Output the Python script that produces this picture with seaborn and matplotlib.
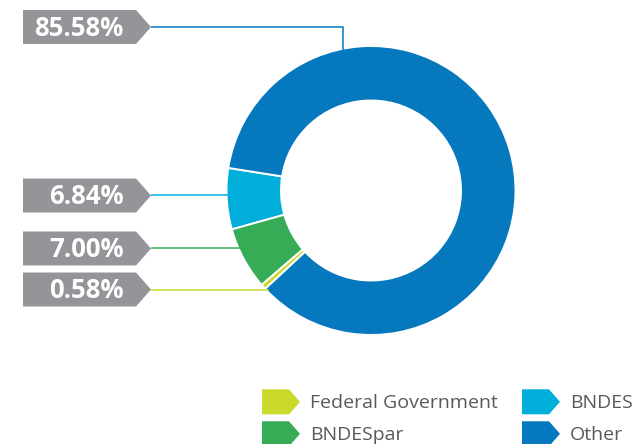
import matplotlib
matplotlib.use("Agg")
import matplotlib.pyplot as plt
import seaborn as sns
import numpy as np
from matplotlib.patches import Polygon

# Shareholder composition
categories = ["BNDES", "BNDESpar", "Federal Government", "Other"]
shares = [6.84, 7.00, 0.58, 85.58]
palette = ["#00AED9", "#37AC57", "#C9DA2A", "#0578BE"]

# Legend layout: two rows, two columns
legend_order = ["Federal Government", "BNDES", "BNDESpar", "Other"]

sns.set_theme(style="white")
plt.rcParams["font.family"] = ["Open Sans", "DejaVu Sans"]

W, H = 635, 444
fig = plt.figure(figsize=(W / 100, H / 100), dpi=100)
ax = fig.add_axes([0, 0, 1, 1])

cx, cy = 371, H - 190.5
r_out, ring = 144.5, 54.5

ax.pie(shares, colors=palette, startangle=171, counterclock=True,
       radius=r_out, center=(cx, cy),
       wedgeprops=dict(width=ring, edgecolor="white", linewidth=1.4))

ax.set_xlim(0, W)
ax.set_ylim(0, H)
ax.set_aspect("equal")
ax.axis("off")

# Value tags on the left, with leader lines into the ring
tag_rows = {"Other": 27, "BNDES": 195.5, "BNDESpar": 248.5, "Federal Government": 289.5}
tag_x0, tag_body, tag_tip, tag_h = 23, 136, 151, 34
box_grey = "#939598"

for name, val, col in zip(categories, shares, palette):
    yc = H - tag_rows[name]
    poly = Polygon([(tag_x0, yc + tag_h / 2), (tag_body, yc + tag_h / 2),
                    (tag_tip, yc), (tag_body, yc - tag_h / 2),
                    (tag_x0, yc - tag_h / 2)],
                   closed=True, facecolor=box_grey, edgecolor="none", zorder=3)
    ax.add_patch(poly)
    ax.text(123.5, yc - 8.8, f"{val:.2f}%", ha="right", va="baseline",
            color="white", fontsize=18.5, fontweight="bold", zorder=4)
    if name == "Other":
        xv = 343
        y_edge = cy + np.sqrt(r_out ** 2 - (xv - cx) ** 2)
        ax.plot([tag_tip, xv, xv], [yc, yc, y_edge - 3], color=col,
                lw=1.1, zorder=1, solid_capstyle="butt")
    else:
        x_edge = cx - np.sqrt(r_out ** 2 - (yc - cy) ** 2)
        ax.plot([tag_tip, x_edge + 3], [yc, yc], color=col, lw=1.1,
                zorder=1, solid_capstyle="butt")

# Legend with arrow-shaped swatches
color_of = dict(zip(categories, palette))
col_x = [262, 522]
row_y = [401.8, 433.8]
for i, name in enumerate(legend_order):
    x0 = col_x[i % 2]
    yc = H - row_y[i // 2]
    sw = Polygon([(x0, yc + 12.5), (x0 + 27, yc + 12.5), (x0 + 38, yc),
                  (x0 + 27, yc - 12.5), (x0, yc - 12.5)],
                 closed=True, facecolor=color_of[name], edgecolor="none")
    ax.add_patch(sw)
    ax.text(x0 + 48, yc - 6.6, name, ha="left", va="baseline",
            color="#58595B", fontsize=14.0)

fig.savefig("out.png", dpi=100)
